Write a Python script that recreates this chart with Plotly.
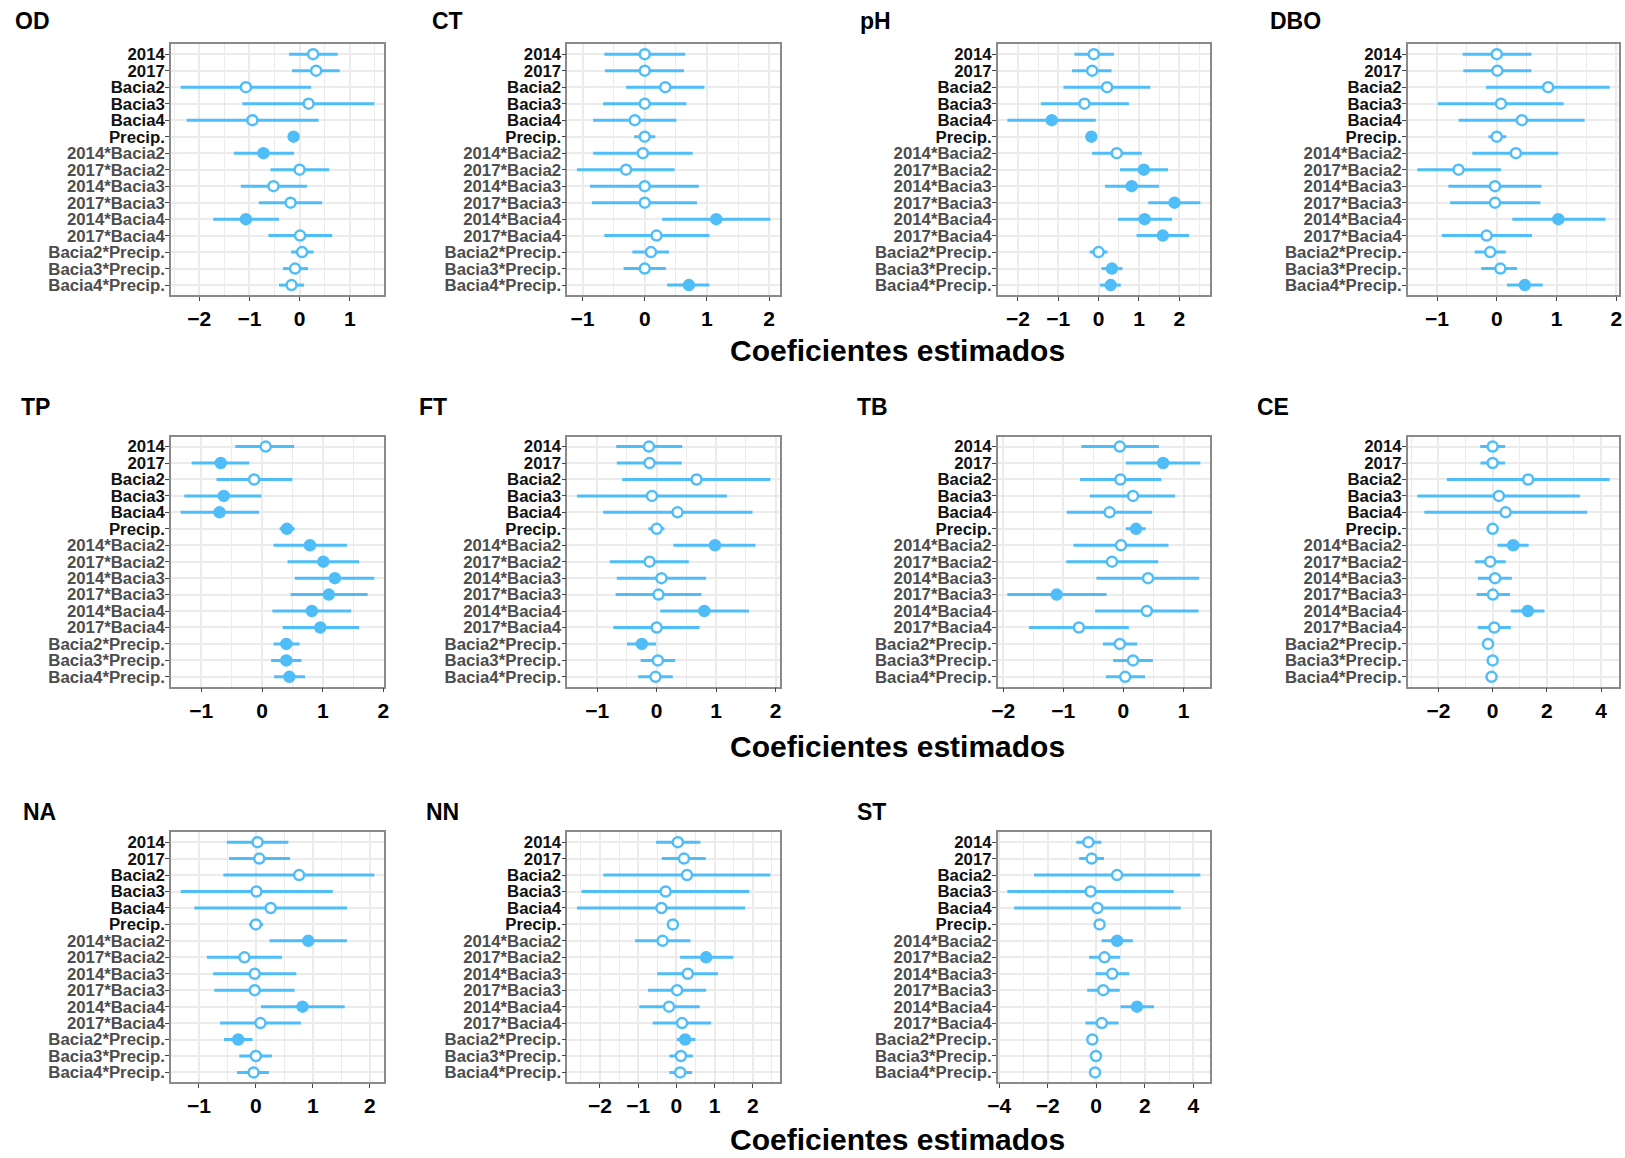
import plotly.graph_objects as go
import numpy as np

terms = ["2014", "2017", "Bacia2", "Bacia3", "Bacia4", "Precip.",
         "2014*Bacia2", "2017*Bacia2", "2014*Bacia3", "2017*Bacia3",
         "2014*Bacia4", "2017*Bacia4", "Bacia2*Precip.", "Bacia3*Precip.", "Bacia4*Precip."]
panels = ["OD", "CT", "pH", "DBO", "TP", "FT", "TB", "CE", "NA", "NN", "ST"]

od_est = [0.27, 0.33, -1.07, 0.18, -0.94, -0.12, -0.72, 0.00, -0.52, -0.18, -1.07, 0.01, 0.05, -0.09, -0.16]
od_lo = [-0.21, -0.15, -2.37, -1.14, -2.25, -0.19, -1.31, -0.58, -1.17, -0.81, -1.72, -0.62, -0.17, -0.33, -0.41]
od_hi = [0.76, 0.80, 0.23, 1.49, 0.38, -0.05, -0.11, 0.59, 0.15, 0.45, -0.41, 0.65, 0.28, 0.17, 0.09]
od_sig = [0, 0, 0, 0, 0, 1, 1, 0, 0, 0, 1, 0, 0, 0, 0]

ct_est = [0.00, 0.00, 0.33, 0.00, -0.16, 0.00, -0.03, -0.30, 0.00, 0.00, 1.15, 0.19, 0.10, 0.00, 0.71]
ct_lo = [-0.65, -0.64, -0.30, -0.67, -0.83, -0.17, -0.83, -1.09, -0.88, -0.85, 0.28, -0.65, -0.20, -0.34, 0.36]
ct_hi = [0.65, 0.63, 0.96, 0.67, 0.51, 0.17, 0.77, 0.48, 0.87, 0.84, 2.02, 1.04, 0.39, 0.34, 1.04]
ct_sig = [0, 0, 0, 0, 0, 0, 0, 0, 0, 0, 1, 0, 0, 0, 1]

ph_est = [-0.12, -0.16, 0.21, -0.35, -1.16, -0.18, 0.45, 1.12, 0.82, 1.88, 1.14, 1.59, 0.00, 0.33, 0.30]
ph_lo = [-0.60, -0.66, -0.87, -1.43, -2.26, -0.30, -0.16, 0.53, 0.16, 1.23, 0.48, 0.94, -0.22, 0.07, 0.03]
ph_hi = [0.38, 0.32, 1.28, 0.75, -0.07, -0.07, 1.07, 1.72, 1.50, 2.52, 1.82, 2.24, 0.22, 0.59, 0.55]
ph_sig = [0, 0, 0, 0, 1, 1, 0, 1, 1, 1, 1, 1, 0, 1, 1]

dbo_est = [0.00, 0.01, 0.86, 0.07, 0.42, 0.00, 0.32, -0.64, -0.03, -0.03, 1.03, -0.17, -0.11, 0.06, 0.47]
dbo_lo = [-0.57, -0.56, -0.18, -0.99, -0.64, -0.14, -0.41, -1.33, -0.81, -0.78, 0.26, -0.92, -0.37, -0.26, 0.17]
dbo_hi = [0.58, 0.58, 1.89, 1.12, 1.47, 0.16, 1.03, 0.07, 0.75, 0.73, 1.82, 0.59, 0.15, 0.34, 0.77]
dbo_sig = [0, 0, 0, 0, 0, 0, 0, 0, 0, 0, 1, 0, 0, 0, 1]

tp_est = [0.06, -0.68, -0.13, -0.63, -0.70, 0.41, 0.79, 1.01, 1.20, 1.10, 0.82, 0.96, 0.40, 0.40, 0.45]
tp_lo = [-0.44, -1.16, -0.75, -1.28, -1.34, 0.29, 0.19, 0.42, 0.54, 0.47, 0.17, 0.34, 0.19, 0.15, 0.20]
tp_hi = [0.53, -0.21, 0.50, -0.01, -0.05, 0.54, 1.40, 1.60, 1.85, 1.74, 1.47, 1.60, 0.62, 0.65, 0.71]
tp_sig = [0, 1, 0, 1, 1, 1, 1, 1, 1, 1, 1, 1, 1, 1, 1]

ft_est = [-0.13, -0.12, 0.67, -0.08, 0.35, 0.00, 0.98, -0.12, 0.08, 0.03, 0.80, 0.00, -0.25, 0.02, -0.02]
ft_lo = [-0.68, -0.67, -0.58, -1.34, -0.90, -0.14, 0.28, -0.79, -0.67, -0.69, 0.06, -0.73, -0.50, -0.27, -0.31]
ft_hi = [0.43, 0.42, 1.91, 1.18, 1.61, 0.13, 1.66, 0.54, 0.83, 0.75, 1.55, 0.72, -0.01, 0.31, 0.27]
ft_sig = [0, 0, 0, 0, 0, 0, 1, 0, 0, 0, 1, 0, 1, 0, 0]

tb_est = [-0.06, 0.66, -0.05, 0.16, -0.23, 0.21, -0.04, -0.19, 0.41, -1.11, 0.39, -0.74, -0.06, 0.16, 0.03]
tb_lo = [-0.70, 0.04, -0.72, -0.56, -0.94, 0.04, -0.83, -0.95, -0.45, -1.93, -0.47, -1.57, -0.34, -0.17, -0.29]
tb_hi = [0.59, 1.28, 0.63, 0.86, 0.48, 0.37, 0.75, 0.58, 1.26, -0.28, 1.25, 0.09, 0.23, 0.49, 0.36]
tb_sig = [0, 1, 0, 0, 0, 1, 0, 0, 0, 1, 0, 0, 0, 0, 0]

ce_est = [0.00, 0.00, 1.31, 0.23, 0.48, 0.00, 0.76, -0.09, 0.09, 0.01, 1.30, 0.06, -0.17, 0.00, -0.04]
ce_lo = [-0.46, -0.45, -1.69, -2.78, -2.52, -0.17, 0.18, -0.65, -0.54, -0.59, 0.67, -0.55, -0.29, -0.18, -0.22]
ce_hi = [0.46, 0.46, 4.32, 3.22, 3.49, 0.17, 1.33, 0.48, 0.71, 0.64, 1.91, 0.67, -0.02, 0.16, 0.15]
ce_sig = [0, 0, 0, 0, 0, 0, 1, 0, 0, 0, 1, 0, 0, 0, 0]

na_est = [0.03, 0.06, 0.76, 0.01, 0.26, 0.00, 0.92, -0.20, -0.02, -0.02, 0.82, 0.08, -0.31, 0.00, -0.04]
na_lo = [-0.51, -0.47, -0.57, -1.32, -1.08, -0.12, 0.24, -0.86, -0.75, -0.73, 0.09, -0.63, -0.56, -0.29, -0.33]
na_hi = [0.57, 0.60, 2.08, 1.35, 1.60, 0.13, 1.60, 0.46, 0.71, 0.68, 1.56, 0.79, -0.06, 0.28, 0.23]
na_sig = [0, 0, 0, 0, 0, 0, 1, 0, 0, 0, 1, 0, 1, 0, 0]

nn_est = [0.04, 0.20, 0.28, -0.28, -0.39, -0.09, -0.36, 0.78, 0.30, 0.02, -0.19, 0.15, 0.23, 0.12, 0.10]
nn_lo = [-0.53, -0.38, -1.91, -2.48, -2.60, -0.19, -1.08, 0.10, -0.50, -0.74, -0.97, -0.62, 0.01, -0.18, -0.18]
nn_hi = [0.63, 0.77, 2.46, 1.91, 1.80, 0.03, 0.37, 1.49, 1.09, 0.78, 0.61, 0.91, 0.50, 0.43, 0.41]
nn_sig = [0, 0, 0, 0, 0, 0, 0, 1, 0, 0, 0, 0, 1, 0, 0]

st_est = [-0.32, -0.19, 0.86, -0.23, 0.05, 0.14, 0.86, 0.34, 0.66, 0.29, 1.68, 0.23, -0.16, -0.01, -0.05]
st_lo = [-0.82, -0.70, -2.56, -3.66, -3.38, -0.05, 0.22, -0.29, -0.03, -0.37, 1.00, -0.44, -0.32, -0.22, -0.25]
st_hi = [0.21, 0.32, 4.29, 3.19, 3.48, 0.32, 1.51, 0.99, 1.36, 0.97, 2.38, 0.92, 0.01, 0.18, 0.15]
st_sig = [0, 0, 0, 0, 0, 0, 1, 0, 0, 0, 1, 0, 0, 0, 0]

x_dticks = [1, 1, 1, 1, 1, 1, 1, 2, 1, 1, 2]

data = {
    "OD": (od_est, od_lo, od_hi, od_sig), "CT": (ct_est, ct_lo, ct_hi, ct_sig),
    "pH": (ph_est, ph_lo, ph_hi, ph_sig), "DBO": (dbo_est, dbo_lo, dbo_hi, dbo_sig),
    "TP": (tp_est, tp_lo, tp_hi, tp_sig), "FT": (ft_est, ft_lo, ft_hi, ft_sig),
    "TB": (tb_est, tb_lo, tb_hi, tb_sig), "CE": (ce_est, ce_lo, ce_hi, ce_sig),
    "NA": (na_est, na_lo, na_hi, na_sig), "NN": (nn_est, nn_lo, nn_hi, nn_sig),
    "ST": (st_est, st_lo, st_hi, st_sig),
}

# ---- layout geometry (pixels) ----
W, H = 1625, 1158
col_px = [(171, 384), (567.3, 780), (997.7, 1210), (1407.7, 1619.3)]
row_px = [(44.3, 295), (436.7, 686.7), (832.3, 1082.3)]
title_x = [13.3, 430, 858.3, 1268.3, 19.3, 417.3, 855, 1255, 20.7, 424, 855]
title_y = [21, 21, 21, 21, 406.7, 406.7, 406.7, 406.7, 812, 812, 812]
xtitle_y = [351, 746, 1139]


def px_x(v):
    return min(max(v / W, 0.0), 1.0)


def px_y(v):
    return min(max(1 - v / H, 0.0), 1.0)


BLUE = "#4FBDF8"
FONT = "Liberation Sans, Arial, sans-serif"
GRID = "#EBEBEB"

ticktext = [
    (f"<span style='color:#111111'>{t}</span>" if i < 6 else f"<span style='color:#4D4D4D'>{t}</span>")
    for i, t in enumerate(terms)
]

fig = go.Figure()
layout = dict(
    width=W, height=H, margin=dict(l=0, r=0, t=0, b=0, autoexpand=False),
    paper_bgcolor="white", plot_bgcolor="white", showlegend=False,
    font=dict(family=FONT), annotations=[], shapes=[],
)

for k, name in enumerate(panels):
    est, lo, hi, sig = [np.array(v, dtype=float) for v in data[name]]
    r, c = divmod(k, 4)
    ax = "" if k == 0 else str(k + 1)
    x0, x1 = col_px[c]
    y0, y1 = row_px[r]
    dmin, dmax = lo.min(), hi.max()
    pad = 0.05 * (dmax - dmin)
    fills = ["white" if s == 0 else BLUE for s in sig]
    fig.add_trace(go.Scatter(
        x=est, y=terms, mode="markers",
        xaxis="x" + ax, yaxis="y" + ax,
        marker=dict(size=10, color=fills, line=dict(color=BLUE, width=2.5)),
        error_x=dict(type="data", symmetric=False, array=hi - est, arrayminus=est - lo,
                     width=0, thickness=3, color=BLUE),
        hoverinfo="x+y",
    ))
    layout["xaxis" + ax] = dict(
        domain=[px_x(x0), px_x(x1)], anchor="y" + ax, automargin=False,
        range=[dmin - pad, dmax + pad], dtick=x_dticks[k], tick0=0,
        showgrid=True, gridcolor=GRID, gridwidth=1.5, zeroline=False,
        minor=dict(dtick=x_dticks[k] / 2, showgrid=True, gridcolor=GRID, gridwidth=1),
        showline=True, mirror=True, linecolor="#8A8A8A", linewidth=1.5,
        ticks="outside", ticklen=4, tickcolor="#444444", tickwidth=1,
        tickfont=dict(family=FONT, size=21, color="black", weight="bold"),
    )
    layout["yaxis" + ax] = dict(
        domain=[px_y(y1), px_y(y0)], anchor="x" + ax, automargin=False,
        type="category", categoryorder="array", categoryarray=terms,
        range=[len(terms) - 0.4, -0.6],
        tickvals=terms, ticktext=ticktext,
        showgrid=True, gridcolor=GRID, gridwidth=1.5, zeroline=False,
        showline=True, mirror=True, linecolor="#8A8A8A", linewidth=1.5,
        ticks="outside", ticklen=4, tickcolor="#444444", tickwidth=1,
        ticklabelstandoff=-3,
        tickfont=dict(family=FONT, size=16.8, weight="bold"),
    )
    layout["shapes"].append(dict(
        type="line", xref="x" + ax, yref="y" + ax + " domain",
        x0=0, x1=0, y0=0, y1=1, layer="below",
        line=dict(color="black", width=1, dash="dash"),
    ))
    layout["annotations"].append(dict(
        text=name, xref="paper", yref="paper",
        x=px_x(title_x[k]), y=px_y(title_y[k]), xanchor="left", yanchor="middle",
        showarrow=False, font=dict(family=FONT, size=23, color="black", weight="bold"),
    ))

for yy in xtitle_y:
    layout["annotations"].append(dict(
        text="Coeficientes estimados", xref="paper", yref="paper",
        x=px_x(897), y=px_y(yy), xanchor="center", yanchor="middle",
        showarrow=False, font=dict(family=FONT, size=30, color="black", weight="bold"),
    ))

fig.update_layout(**layout)
fig.write_html(
    "out.html",
    config={"displayModeBar": False},
    post_script="document.body.style.margin='0';document.body.style.overflow='hidden';",
)
